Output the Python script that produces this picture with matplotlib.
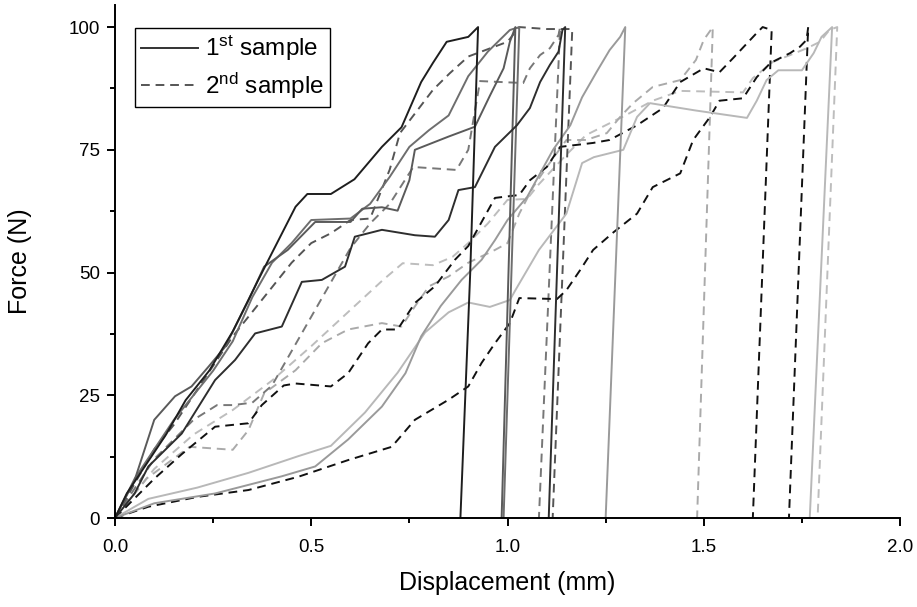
import matplotlib
matplotlib.use("Agg")
import matplotlib.pyplot as plt
from matplotlib.lines import Line2D
from matplotlib.ticker import MultipleLocator

plt.rcParams["font.family"] = ["Liberation Sans", "DejaVu Sans"]
plt.rcParams["mathtext.default"] = "regular"

# ---- data: (displacement mm, force N) ----
# 1st sample (solid)
s1_x = [0, 0.03, 0.08, 0.13, 0.18, 0.24, 0.30, 0.365, 0.40, 0.46, 0.49, 0.55, 0.61, 0.68, 0.73, 0.78, 0.81, 0.845, 0.90, 0.925, 0.905, 0.88]
s1_y = [0, 5, 11, 17, 24, 30, 38, 48.5, 54, 63.4, 66, 66, 69, 75.6, 79.6, 88.8, 92.7, 97, 98, 100, 50, 0]
s2_x = [0, 0.05, 0.10, 0.153, 0.195, 0.238, 0.28, 0.34, 0.38, 0.44, 0.51, 0.60, 0.63, 0.68, 0.72, 0.75, 0.764, 0.85, 0.917, 0.955, 0.99, 1.006, 1.02, 0.985]
s2_y = [0, 7.7, 20, 24.8, 26.8, 30.8, 34.8, 44.3, 51.2, 54.6, 60.3, 60.3, 63, 63.3, 62.6, 68.8, 75, 77.7, 79.7, 86, 91.6, 97, 100, 0]
s3_x = [0, 0.05, 0.10, 0.15, 0.20, 0.25, 0.30, 0.35, 0.40, 0.45, 0.50, 0.60, 0.65, 0.70, 0.75, 0.80, 0.85, 0.90, 0.95, 1.006, 1.03, 0.99]
s3_y = [0, 8, 14, 20, 25, 30, 36, 45, 52, 56, 60.7, 61, 64, 69.5, 75.6, 79, 82, 90, 95, 99.4, 100, 0]
s4_x = [0, 0.05, 0.085, 0.17, 0.255, 0.306, 0.357, 0.425, 0.476, 0.527, 0.586, 0.611, 0.68, 0.764, 0.815, 0.85, 0.875, 0.917, 0.968, 1.024, 1.057, 1.083, 1.108, 1.13, 1.14, 1.147, 1.105]
s4_y = [0, 5, 10.5, 17.2, 28.1, 32.2, 37.6, 39, 48.1, 48.5, 51.2, 57.3, 58.7, 57.6, 57.3, 60.7, 66.8, 67.4, 75.6, 80, 83.5, 88.8, 92.3, 95, 99.4, 100, 0]
s5_x = [0, 0.10, 0.255, 0.425, 0.51, 0.594, 0.68, 0.74, 0.78, 0.83, 0.883, 0.934, 0.968, 1.0, 1.05, 1.116, 1.16, 1.19, 1.228, 1.26, 1.287, 1.30, 1.25]
s5_y = [0, 3, 5, 8.5, 10.5, 16, 22.7, 29.5, 37, 43.2, 48.5, 52.6, 56.6, 60.7, 65.4, 75, 80, 85.7, 91, 95.3, 98, 100, 0]
s6_x = [0, 0.085, 0.21, 0.34, 0.467, 0.55, 0.637, 0.72, 0.79, 0.85, 0.90, 0.955, 1.006, 1.02, 1.08, 1.15, 1.19, 1.22, 1.295, 1.33, 1.363, 1.48, 1.61, 1.635, 1.66, 1.69, 1.75, 1.78, 1.80, 1.827, 1.77]
s6_y = [0, 3.9, 6.2, 9.2, 12.6, 14.7, 21.5, 29.6, 37.8, 41.9, 43.9, 43, 44.4, 46.4, 54.6, 62, 72.3, 73.5, 75, 81.7, 84.5, 83, 81.5, 85, 89.2, 91.2, 91.2, 94.7, 98, 100, 0]

# 2nd sample (dashed)
d1_x = [0, 0.05, 0.10, 0.15, 0.20, 0.25, 0.30, 0.35, 0.40, 0.45, 0.50, 0.55, 0.60, 0.65, 0.70, 0.726, 0.77, 0.81, 0.853, 0.90, 0.95, 1.0, 1.03, 1.10, 1.165, 1.115]
d1_y = [0, 7, 14, 19, 25, 31, 37, 42, 47, 52, 56, 58, 60.7, 61, 71, 78.4, 83, 87.2, 90.6, 94, 95.5, 97, 100, 99.6, 99.6, 0]
d2_x = [0, 0.05, 0.10, 0.15, 0.20, 0.26, 0.30, 0.35, 0.40, 0.45, 0.50, 0.55, 0.60, 0.65, 0.70, 0.76, 0.87, 0.90, 0.93, 1.04, 1.057, 1.083, 1.108, 1.13, 1.134, 1.08]
d2_y = [0, 6, 12, 16, 20, 23, 23, 23.5, 27, 34, 41, 48, 55, 60, 64, 71.5, 70.9, 75, 89, 88.6, 91.6, 94.3, 95.7, 98.4, 100, 0]
d3_x = [0, 0.08, 0.19, 0.30, 0.34, 0.38, 0.46, 0.527, 0.594, 0.68, 0.73, 0.764, 0.80, 0.85, 0.90, 0.968, 1.0, 1.03, 1.065, 1.10, 1.15, 1.20, 1.253, 1.287, 1.32, 1.37, 1.44, 1.48, 1.50, 1.523, 1.483]
d3_y = [0, 8, 14.5, 13.9, 17.9, 25.4, 30.1, 35.6, 38.4, 39.7, 39, 43.1, 47.2, 49.2, 52, 54.6, 56, 62, 67.4, 71.5, 77, 77, 78.4, 81.7, 84.5, 87.8, 89.2, 93.3, 97.4, 100, 0]
d4_x = [0, 0.05, 0.10, 0.17, 0.255, 0.34, 0.374, 0.43, 0.46, 0.55, 0.594, 0.645, 0.68, 0.72, 0.764, 0.815, 0.866, 0.90, 0.968, 1.03, 1.057, 1.10, 1.134, 1.218, 1.26, 1.33, 1.396, 1.44, 1.50, 1.54, 1.575, 1.635, 1.65, 1.673, 1.625]
d4_y = [0, 4, 8, 13, 18.6, 19.3, 23, 27, 27.4, 26.8, 29.5, 35.6, 38.4, 38.4, 43.8, 47.2, 52.6, 55.4, 65.2, 65.8, 68.8, 71.5, 75.6, 76.4, 77, 80, 83.5, 88.8, 91.6, 90.8, 93.7, 98.8, 100, 99.4, 0]
d5_x = [0, 0.085, 0.21, 0.34, 0.467, 0.594, 0.705, 0.764, 0.85, 0.90, 0.934, 0.968, 1.006, 1.03, 1.126, 1.15, 1.185, 1.218, 1.27, 1.33, 1.37, 1.405, 1.44, 1.473, 1.516, 1.54, 1.60, 1.635, 1.67, 1.72, 1.745, 1.762, 1.766, 1.717]
d5_y = [0, 2.3, 4.3, 5.7, 8.4, 11.8, 14.5, 20, 24.1, 26.8, 31.6, 35.6, 39.7, 44.8, 44.6, 46.4, 50.5, 54.6, 58.2, 62, 67.4, 68.8, 70.2, 77, 81.7, 85, 85.5, 89.8, 92.7, 94.7, 96, 97.4, 100, 0]
d6_x = [0, 0.10, 0.20, 0.30, 0.40, 0.50, 0.60, 0.683, 0.733, 0.81, 0.86, 0.90, 0.95, 1.0, 1.05, 1.08, 1.15, 1.20, 1.30, 1.37, 1.44, 1.60, 1.625, 1.676, 1.72, 1.763, 1.796, 1.82, 1.84, 1.79]
d6_y = [0, 10, 17, 22, 28, 35, 42.4, 48.5, 51.9, 51.5, 53.2, 56, 60, 64.8, 65, 68, 74, 78, 82, 85, 87, 86.7, 89.6, 92.9, 94.3, 95.7, 97, 99.4, 100, 0]

x_ticks = [0, 0.5, 1.0, 1.5, 2.0]
x_tick_labels = ["0.0", "0.5", "1.0", "1.5", "2.0"]
y_ticks = [0, 25, 50, 75, 100]
y_tick_labels = ["0", "25", "50", "75", "100"]

solid = [(s6_x, s6_y, "#b8b8b8"), (s5_x, s5_y, "#9a9a9a"), (s3_x, s3_y, "#6e6e6e"),
         (s2_x, s2_y, "#5a5a5a"), (s4_x, s4_y, "#2e2e2e"), (s1_x, s1_y, "#1e1e1e")]
dashed = [(d6_x, d6_y, "#bdbdbd"), (d3_x, d3_y, "#aaaaaa"), (d2_x, d2_y, "#777777"),
          (d1_x, d1_y, "#555555"), (d4_x, d4_y, "#111111"), (d5_x, d5_y, "#111111")]

fig = plt.figure(figsize=(9.17, 6.07), dpi=100)
ax = fig.add_axes([0.1254, 0.1466, 0.8561, 0.8452])

for x, y, c in dashed:
    ax.plot(x, y, color=c, lw=1.4, dashes=(4.5, 3))
for x, y, c in solid:
    ax.plot(x, y, color=c, lw=1.4)

ax.set_xlim(0, 2.0)
ax.set_ylim(0, 104.5)
ax.spines["top"].set_visible(False)
ax.spines["right"].set_visible(False)
for s in ("left", "bottom"):
    ax.spines[s].set_linewidth(1.4)
ax.xaxis.set_minor_locator(MultipleLocator(0.25))
ax.yaxis.set_minor_locator(MultipleLocator(12.5))
ax.set_xticks(x_ticks)
ax.set_xticklabels(x_tick_labels)
ax.set_yticks(y_ticks)
ax.set_yticklabels(y_tick_labels)
ax.tick_params(which="major", direction="out", length=6, width=1.4, labelsize=13.5)
ax.tick_params(axis="x", which="major", pad=9)
ax.tick_params(axis="y", which="major", pad=5)
ax.tick_params(which="minor", direction="out", length=3.8, width=1.4)

ax.set_xlabel("Displacement (mm)", fontsize=18, labelpad=11)
ax.set_ylabel("Force (N)", fontsize=18, labelpad=26)

handles = [Line2D([], [], color="#333333", lw=1.4),
           Line2D([], [], color="#555555", lw=1.4, dashes=(4.5, 3))]
leg = ax.legend(handles, ["1$^{st}$ sample", "2$^{nd}$ sample"], loc="upper left",
                bbox_to_anchor=(0.025, 0.955), fontsize=17.5, frameon=True, fancybox=False,
                edgecolor="black", framealpha=1, handlelength=2.35, handletextpad=0.3,
                borderpad=0.25, labelspacing=0.3, borderaxespad=0)
leg.get_frame().set_linewidth(1.0)

fig.savefig("out.png", dpi=100)
